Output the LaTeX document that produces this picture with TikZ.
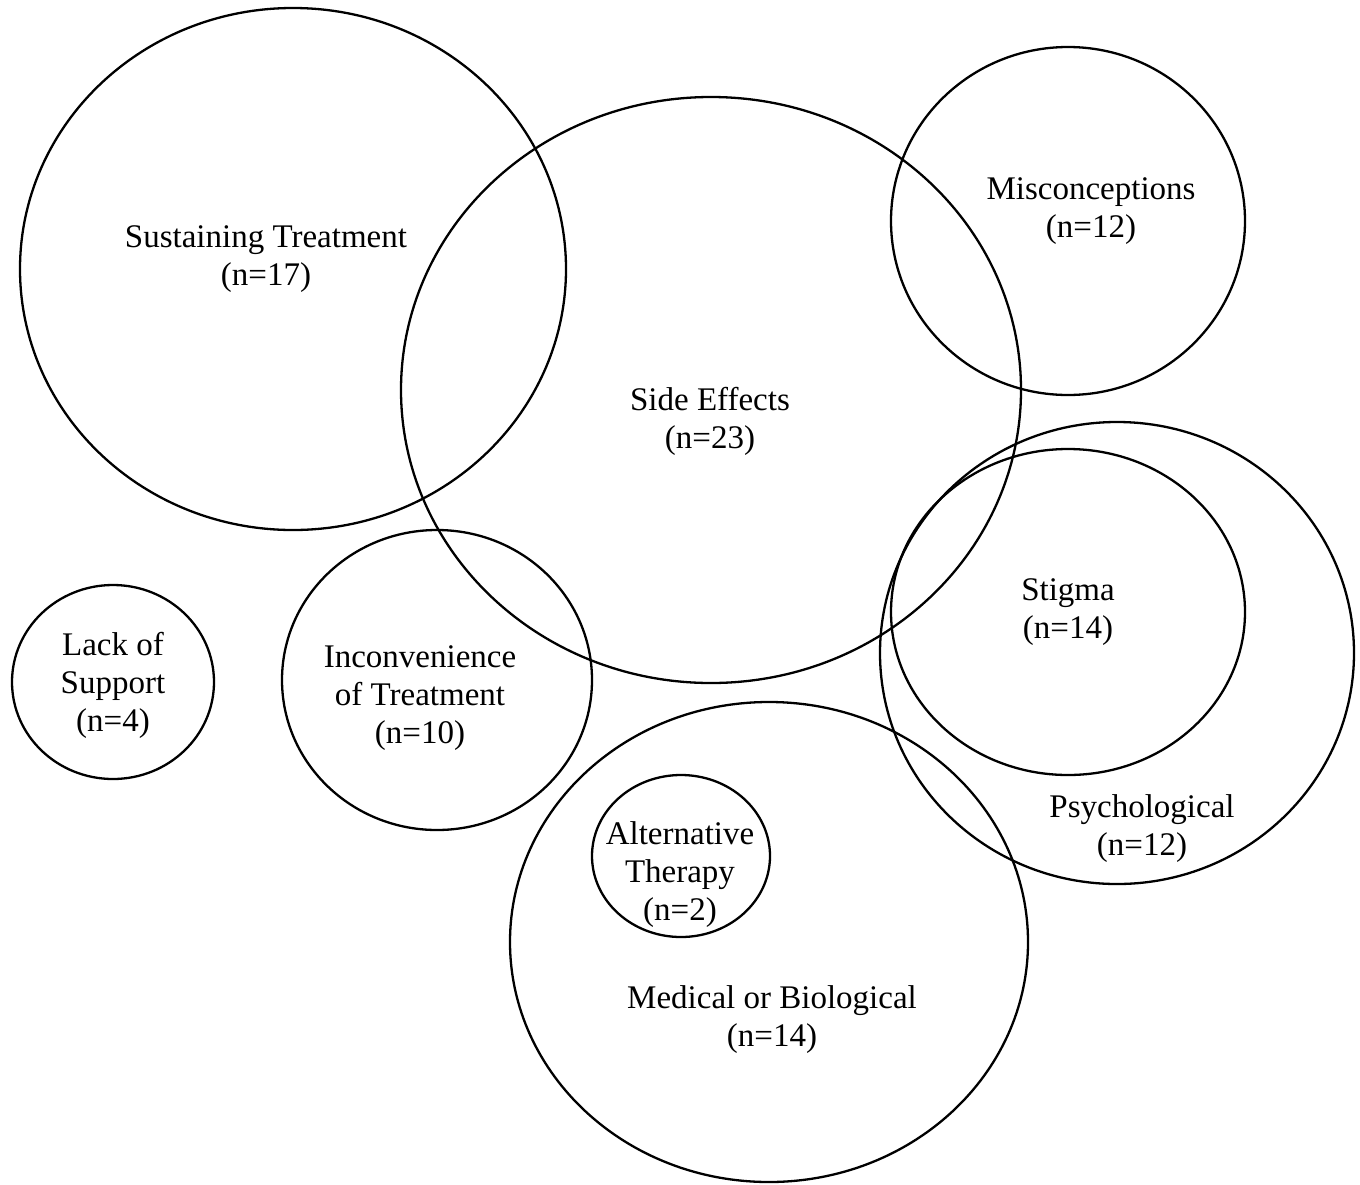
\documentclass[tikz,border=0pt]{standalone}
\usepackage{fontspec}
\setmainfont{Liberation Serif}
\begin{document}
\begin{tikzpicture}[x=1pt,y=-1pt,
  ring/.style={draw=black,line width=2.3pt},
  lbl/.style={align=center,font=\fontsize{33}{38}\selectfont,inner sep=0pt}]
\useasboundingbox (0,0) rectangle (1360,1184);
% ellipses
\draw[ring] (293,269) ellipse [x radius=273,y radius=261];
\draw[ring] (711,390) ellipse [x radius=310,y radius=293];
\draw[ring] (1068,221) ellipse [x radius=177,y radius=174];
\draw[ring] (1117,653) ellipse [x radius=237,y radius=231];
\draw[ring] (1068,612) ellipse [x radius=177,y radius=163];
\draw[ring] (113,682) ellipse [x radius=101,y radius=97];
\draw[ring] (437,680) ellipse [x radius=155,y radius=150];
\draw[ring] (769,942) ellipse [x radius=259,y radius=240];
\draw[ring] (681,856) ellipse [x radius=89,y radius=81];
% labels
\node[lbl] (sus) at (266,259) {Sustaining Treatment\\(n=17)};
\node[lbl] (mis) at (1091,211) {Misconceptions\\(n=12)};
\node[lbl] (side) at (710,421) {Side Effects\\(n=23)};
\node[lbl] (stig) at (1068,612) {Stigma\\(n=14)};
\node[lbl] (lack) at (113,685) {Lack of\\Support\\(n=4)};
\node[lbl] (inc) at (420,698) {Inconvenience\\of Treatment\\(n=10)};
\node[lbl] (alt) at (680,875) {Alternative\\Therapy\\(n=2)};
\node[lbl] (psy) at (1142,829) {Psychological\\(n=12)};
\node[lbl] (med) at (772,1020) {Medical or Biological\\(n=14)};
\end{tikzpicture}
\end{document}
